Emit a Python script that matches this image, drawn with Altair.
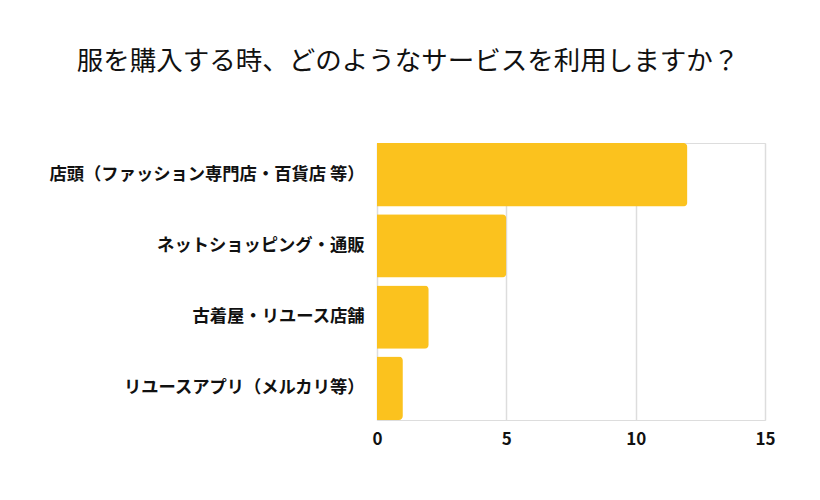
import altair as alt
import pandas as pd

categories = ["店頭（ファッション専門店・百貨店 等）", "ネットショッピング・通販", "古着屋・リユース店舗", "リユースアプリ（メルカリ等）"]
values = [12, 5, 2, 1]
ticks = [0, 5, 10, 15]

df = pd.DataFrame({"category": categories, "value": values})

font = "Noto Sans CJK JP"

chart = alt.Chart(df).mark_bar(
    color="#FBC21E", cornerRadiusTopRight=4, cornerRadiusBottomRight=4
).encode(
    x=alt.X("value:Q", scale=alt.Scale(domain=[0, 15], nice=False),
            axis=alt.Axis(values=ticks, title=None, domain=False, ticks=False,
                          labelFont=font, labelFontWeight="bold", labelFontSize=17,
                          labelColor="#111111", labelPadding=11, labelFlush=False,
                          gridColor="#dddddd", gridWidth=1.5)),
    y=alt.Y("category:N", sort=categories,
            scale=alt.Scale(paddingInner=0.11, paddingOuter=0.0),
            axis=alt.Axis(title=None, domain=False, ticks=False,
                          labelFont=font, labelFontWeight="bold", labelFontSize=17.3,
                          labelColor="#111111", labelPadding=13, labelLimit=500)),
).properties(
    width=388, height=277,
    title=alt.TitleParams(
        "服を購入する時、どのようなサービスを利用しますか？",
        font=font, fontSize=26.5, fontWeight="normal", color="#111111",
        anchor="middle", dx=-163, offset=68,
    ),
    autosize=alt.AutoSizeParams(type="none"),
    padding={"left": 377, "top": 143, "right": 55, "bottom": 80},
).configure_view(stroke=None).configure(background="white")

chart.save("out.html", embed_options={"renderer": "svg", "actions": False})
